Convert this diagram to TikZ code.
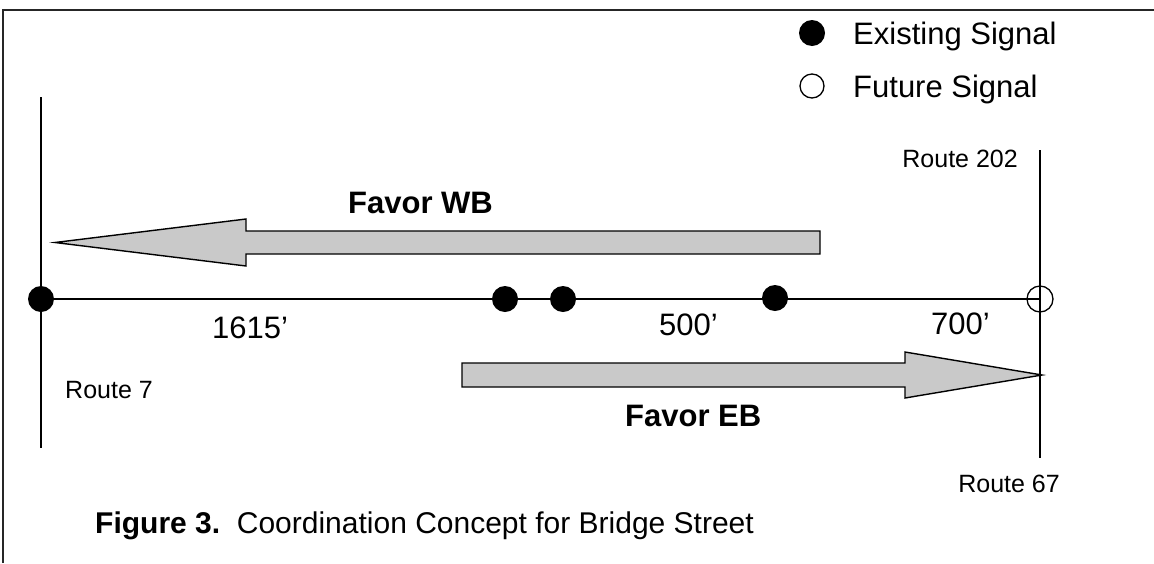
\documentclass[tikz,border=0pt]{standalone}
\usepackage{fontspec}
\setmainfont{Liberation Sans}
\begin{document}
\begin{tikzpicture}[x=1pt,y=-1pt,
  road/.style={line width=1.4pt,black},
  frameline/.style={line width=1.8pt,black!85},
  signal/.style={circle,inner sep=0pt,minimum size=26pt},
  existing/.style={signal,fill=black},
  future/.style={signal,draw=black,line width=1.3pt},
  flow/.style={draw=black,line width=1.4pt,fill=black!21,line join=miter},
  big/.style={font=\fontsize{31}{37}\selectfont},
  bigbold/.style={font=\fontsize{31}{37}\selectfont\bfseries},
  small/.style={font=\fontsize{25}{30}\selectfont},
  lbl/.style={inner sep=0pt,anchor=base west},
  lble/.style={inner sep=0pt,anchor=base east}]
\useasboundingbox (0,0) rectangle (1154,563);

% frame along top and left
\draw[frameline] (3,563) -- (3,10) -- (1154,10);

% road end points
\coordinate (r7top) at (41,97);
\coordinate (r7bot) at (41,448);
\coordinate (r202top) at (1040,150);
\coordinate (r67bot) at (1040,458);
\coordinate (west) at (41,299);
\coordinate (east) at (1040,299);

% roads
\draw[road] (r7top) -- (r7bot);
\draw[road] (r202top) -- (r67bot);
\draw[road] (west) -- (east);

% signals on Bridge Street
\node[existing] (s1) at (west) {};
\node[existing] (s2) at (505,299) {};
\node[existing] (s3) at (563,299) {};
\node[existing] (s4) at (775,298) {};
\node[future]   (s5) at (east) {};

% progression bands
\draw[flow] (820,231) -- (246,231) -- (246,219) -- (55,242.5)
            -- (246,266) -- (246,254) -- (820,254) -- cycle;
\draw[flow] (462,363) -- (905,363) -- (905,352) -- (1042,375)
            -- (905,398) -- (905,387) -- (462,387) -- cycle;

\node[bigbold,lbl] (wb) at (348,213) {Favor WB};
\node[bigbold,lbl] (eb) at (625,426) {Favor EB};

% spacing between signals
\node[big,lbl] (d1) at (212,338) {1615’};
\node[big,lbl] (d2) at (659,335) {500’};
\node[big,lbl] (d3) at (931,334) {700’};

% cross streets
\node[small,lbl]  (n7)   at (65,398)   {Route 7};
\node[small,lble] (n202) at (1018,167) {Route 202};
\node[small,lble] (n67)  at (1060,492) {Route 67};

% legend
\node[existing] (k1) at (812,33) {};
\node[big,lbl] (k1t) at (853,44) {Existing Signal};
\node[future,minimum size=24pt] (k2) at (812,86) {};
\node[big,lbl] (k2t) at (853,97) {Future Signal};

% caption
\node[lbl,font=\fontsize{30}{36}\selectfont] (cap) at (95,533)
  {\textbf{Figure 3.}\ \ Coordination Concept for Bridge Street};
\end{tikzpicture}
\end{document}
